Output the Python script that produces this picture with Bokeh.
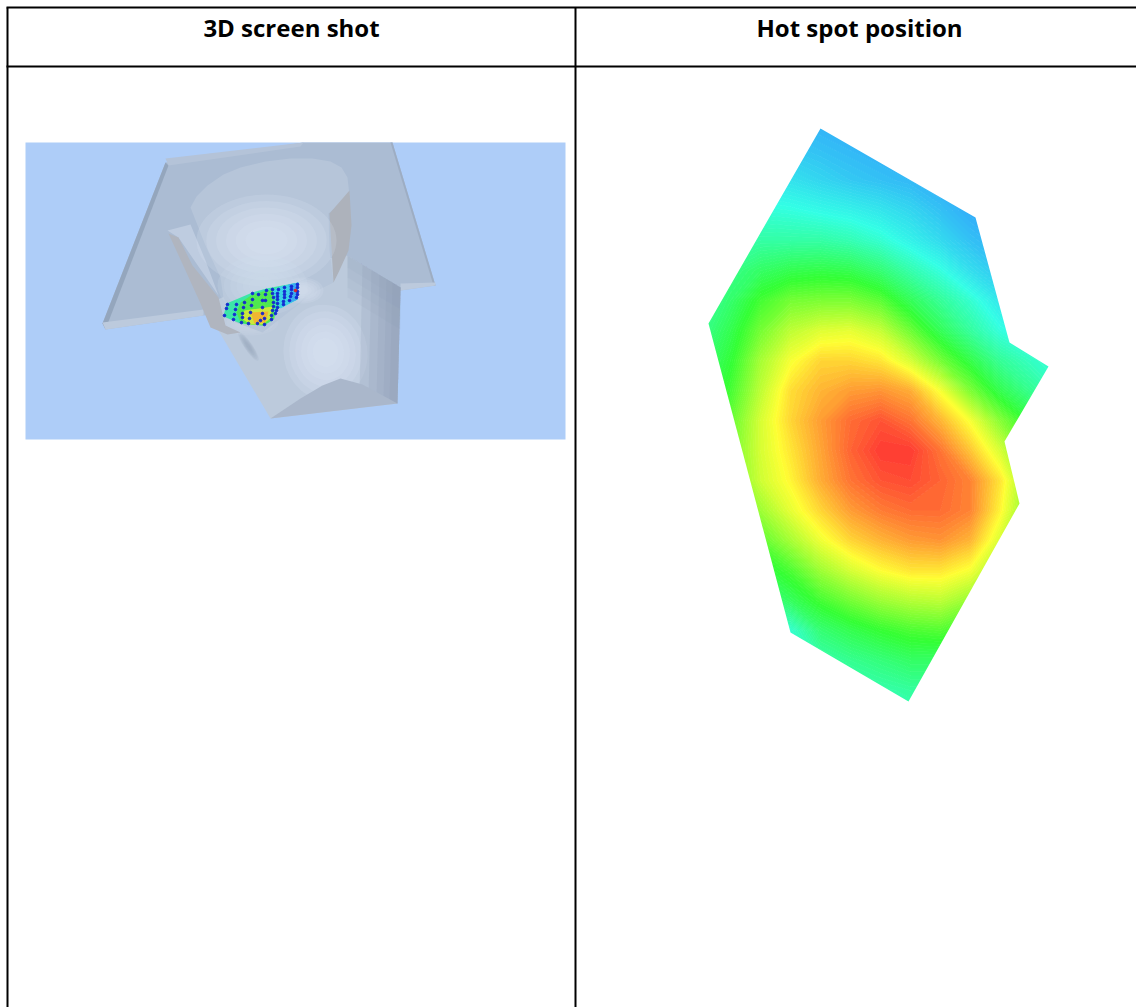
import numpy as np
from bokeh.plotting import figure
from bokeh.embed import file_html
from bokeh.resources import INLINE
from bokeh.core.properties import value

# ---- table ----
HEADERS = ["3D screen shot", "Hot spot position"]
HEADER_X = [291, 859]
HEADER_Y = [27, 27]
H_LINES_Y = [7, 66]
V_LINES_X = [7, 575]

# ---- hot spot field (0 blue .. 1 red) ----
GRID_X = [700, 730, 760, 790, 820, 850, 880, 910, 940, 970, 1000, 1030, 1060]
GRID_Y = [120, 150, 180, 210, 240, 270, 300, 330, 360, 390, 420, 450, 480, 510, 540, 570, 600, 630, 660, 690, 720]
FIELD = [
    [.12, .11, .10, .08, .06, .05, .04, .03, .02, .01, .00, .00, .00],
    [.16, .15, .14, .12, .10, .08, .06, .05, .03, .02, .01, .00, .00],
    [.23, .21, .20, .18, .15, .12, .10, .08, .05, .03, .02, .01, .00],
    [.28, .28, .27, .26, .24, .22, .19, .15, .10, .05, .03, .02, .01],
    [.30, .33, .34, .34, .34, .32, .28, .22, .16, .10, .06, .04, .03],
    [.32, .38, .43, .46, .47, .46, .41, .33, .26, .17, .11, .08, .06],
    [.34, .42, .52, .58, .59, .59, .55, .45, .36, .28, .19, .14, .12],
    [.37, .46, .58, .67, .71, .72, .68, .57, .45, .35, .26, .22, .20],
    [.40, .49, .64, .74, .80, .80, .78, .70, .58, .47, .36, .30, .26],
    [.42, .52, .67, .79, .84, .87, .88, .85, .74, .59, .46, .37, .30],
    [.44, .56, .70, .80, .87, .93, .96, .92, .84, .74, .60, .48, .36],
    [.46, .58, .70, .78, .86, .94, .99, .99, .92, .82, .70, .56, .42],
    [.46, .58, .69, .76, .85, .92, .96, .97, .94, .90, .78, .60, .45],
    [.42, .53, .63, .72, .80, .87, .91, .93, .93, .90, .76, .58, .44],
    [.37, .46, .55, .64, .73, .80, .84, .87, .88, .84, .70, .55, .42],
    [.32, .39, .46, .53, .63, .70, .75, .78, .78, .74, .62, .50, .38],
    [.27, .32, .38, .44, .52, .58, .63, .66, .67, .62, .52, .44, .34],
    [.22, .26, .30, .28, .41, .46, .50, .53, .54, .50, .44, .38, .30],
    [.18, .22, .24, .27, .33, .37, .40, .43, .43, .40, .36, .32, .27],
    [.16, .19, .21, .24, .28, .31, .33, .35, .35, .33, .30, .27, .24],
    [.14, .16, .18, .21, .25, .27, .29, .31, .31, .30, .28, .25, .22],
]
COLOR_STOPS = [0, .25, .5, .75, 1]
COLOR_R = [51, 51, 51, 255, 255]
COLOR_G = [153, 255, 255, 255, 51]
COLOR_B = [255, 230, 51, 51, 51]
HOT_X = [820, 975, 1009, 1048, 1004, 1019, 908, 790, 708]
HOT_Y = [128, 217, 342, 366, 441, 503, 701, 632, 323]
MASK_X = [690, 1070, 1070, 690]
MASK_Y = [110, 110, 730, 730]

# ---- 3D view shapes ----
BG_X = [25, 565, 565, 25]
BG_Y = [142, 142, 439, 439]
PLATE_SHAPES = [
    ([165, 303, 392, 435, 400, 350, 203, 105, 102], [162, 142, 142, 285, 290, 300, 315, 329, 323], "#ABBCD3"),
    ([165, 102, 105, 168], [162, 323, 329, 165], "#94A6BD"),
    ([165, 303, 300, 168], [158, 142, 146, 165], "#B4C3D8"),
    ([102, 203, 203, 105], [322, 309, 315, 329], "#BCCADD"),
    ([392, 435, 433, 390], [142, 285, 285, 142], "#9DADC3"),
    ([400, 435, 435, 400], [283, 282, 285, 290], "#BCCADD"),
]
TUBE_X = [347, 400, 397, 270, 218, 215, 300]
TUBE_Y = [255, 287, 403, 418, 330, 300, 262]
TUBE_COLOR = "#BCCADC"
WALL_INSETS = [38, 29, 21, 14, 8]
RIDGE_INSETS = [42, 32, 22, 12]
FACE_X = [270, 300, 322, 340, 362, 397]
FACE_Y = [418, 398, 385, 378, 384, 403]
FACE_COLOR = "#AAB7CB"
TUBE_SOFT_X = [325, 248, 250]
TUBE_SOFT_Y = [352, 346, 322]
TUBE_SOFT_W = [84, 8, 56]
TUBE_SOFT_H = [96, 34, 26]
TUBE_SOFT_A = [.15, .6, 0]
TUBE_SOFT_C = ["#DCE6F3", "#9AAAC0", "#CBD7E6"]
BODY_SHAPES = [
    # grey shell, left
    ([167, 190, 205, 218, 178], [230, 224, 260, 295, 237], "#BECCE0"),
    ([168, 178, 192, 218, 225, 240, 227, 210, 200, 185], [233, 237, 265, 297, 325, 332, 334, 327, 303, 270], "#B0B5BF"),
    # cup interior
    ([190, 196, 207, 223, 240, 265, 290, 312, 330, 341, 347, 349, 328, 329, 333, 317, 303, 262, 235, 223, 220, 205],
     [207, 196, 185, 174, 167, 161, 158, 158, 161, 167, 177, 195, 213, 250, 282, 290, 300, 332, 322, 297, 277, 245], "#B6C5D9"),
    # grey shell, right
    ([329, 349, 351, 348, 338, 333], [213, 190, 225, 250, 272, 282], "#ADB2BB"),
]
# soft shading in the cup: centre x, centre y, width, height, angle, colour
SOFT_X = [266, 262, 302]
SOFT_Y = [240, 285, 290]
SOFT_W = [140, 90, 42]
SOFT_H = [92, 60, 26]
SOFT_A = [0, 0, 0]
SOFT_C = ["#DAE5F3", "#CFDBEB", "#D5E0EE"]
# small hot spot on the 3D view
SPOT_LAYERS = [
    ([298, 297, 278, 272, 263, 248, 240, 223, 226, 252, 266], [282, 299, 308, 320, 325, 324, 323, 316, 303, 292, 288], "#3CE6A8"),
    ([298, 297, 280, 276, 272, 280], [282, 299, 308, 300, 290, 286], "#3CD2E6"),
    ([298, 297, 290, 288], [282, 299, 302, 284], "#3CAAF0"),
    ([272, 274, 263, 248, 240, 236, 240, 252, 266], [290, 318, 325, 324, 322, 312, 302, 294, 290], "#50E850"),
    ([244, 272, 270, 262, 250, 241], [310, 306, 318, 324, 324, 318], "#CDE83C"),
    ([250, 268, 265, 254], [312, 311, 322, 323], "#F0B632"),
]
DOT_X = [297, 297, 297, 297, 296, 291, 291, 291, 290, 289, 284, 284, 284, 284, 283, 283,
         278, 277, 277, 277, 277, 277, 276, 275, 272, 272, 273, 273, 273, 272, 271, 271,
         266, 265, 265, 264, 264, 258, 262, 262, 262, 260, 257, 252, 252, 251, 250, 249, 248,
         244, 243, 242, 242, 241, 236, 235, 234, 233, 227, 226, 224]
DOT_Y = [284, 287, 291, 294, 297, 286, 289, 293, 296, 300, 287, 291, 294, 297, 301, 304,
         289, 293, 296, 299, 303, 307, 310, 313, 289, 293, 297, 302, 306, 310, 315, 319,
         290, 294, 300, 318, 324, 294, 300, 307, 313, 320, 323, 293, 299, 305, 312, 318, 323,
         302, 307, 313, 317, 322, 304, 309, 314, 319, 304, 308, 315]
RED_DOT_X = [295]
RED_DOT_Y = [290]
DOT_COLOR = "#1426D2"

p = figure(width=1136, height=1007, x_range=(0, 1136), y_range=(1007, 0),
           output_backend="svg", toolbar_location=None, min_border=0)
p.axis.visible = False
p.grid.visible = False
p.outline_line_color = None
p.background_fill_color = "white"
p.border_fill_color = "white"
p.styles = {"position": "absolute", "left": "0px", "top": "0px"}

SCALES = (1.0, .86, .72, .58, .44, .3)
def soft(xs, ys, ws, hs, angs, cols):
    for s in SCALES:
        p.ellipse(xs, ys, width=[w * s for w in ws], height=[h * s for h in hs],
                  angle=angs, fill_color=cols, fill_alpha=.2, line_color=None)

# 3D view
p.patch(BG_X, BG_Y, fill_color="#AECDF8", line_color=None)
for xs, ys, c in PLATE_SHAPES:
    p.patch(xs, ys, fill_color=c, line_color=None)
p.patch(TUBE_X, TUBE_Y, fill_color=TUBE_COLOR, line_color=None)
soft(TUBE_SOFT_X, TUBE_SOFT_Y, TUBE_SOFT_W, TUBE_SOFT_H, TUBE_SOFT_A, TUBE_SOFT_C)
for i in RIDGE_INSETS:
    p.patch([TUBE_X[0], TUBE_X[1], TUBE_X[1], TUBE_X[0]], [TUBE_Y[0], TUBE_Y[1], TUBE_Y[1] + i, TUBE_Y[0] + i],
            fill_color="#93A3BA", fill_alpha=.12, line_color=None)
for i in WALL_INSETS:
    p.patch([TUBE_X[1] - i, TUBE_X[1], TUBE_X[2], TUBE_X[2] - i],
            [TUBE_Y[1] - i * .6, TUBE_Y[1], TUBE_Y[2], TUBE_Y[2] - i / 4],
            fill_color="#8E9DB3", fill_alpha=.2, line_color=None)
p.patch(FACE_X, FACE_Y, fill_color=FACE_COLOR, line_color=None)
for xs, ys, c in BODY_SHAPES:
    p.patch(xs, ys, fill_color=c, line_color=None)
soft(SOFT_X, SOFT_Y, SOFT_W, SOFT_H, SOFT_A, SOFT_C)
for xs, ys, c in SPOT_LAYERS:
    p.patch(xs, ys, fill_color=c, line_color=None)
p.scatter(DOT_X, DOT_Y, size=2.6, color=DOT_COLOR)
p.scatter(RED_DOT_X, RED_DOT_Y, size=2.6, color="#E02020")

# hot spot map
stops = np.array(COLOR_STOPS, dtype=float)
def cmap(v):
    r = np.interp(v, stops, COLOR_R)
    g = np.interp(v, stops, COLOR_G)
    b = np.interp(v, stops, COLOR_B)
    return ["#%02x%02x%02x" % (int(a), int(c), int(d)) for a, c, d in zip(r, g, b)]
levels = np.arange(-1, 102) / 100
mids = (levels[:-1] + levels[1:]) / 2
xx, yy = np.meshgrid(GRID_X, GRID_Y)
p.contour(xx, yy, np.array(FIELD), levels=levels, fill_color=cmap(mids),
          line_color=cmap(levels), line_width=1)
p.multi_polygons(xs=[[[MASK_X, HOT_X]]], ys=[[[MASK_Y, HOT_Y]]], fill_color="white", line_color=None)

# table
p.segment(x0=[6, 6], y0=H_LINES_Y, x1=[1136, 1136], y1=H_LINES_Y, line_color="black", line_width=2)
p.segment(x0=V_LINES_X, y0=[H_LINES_Y[0]] * 2, x1=V_LINES_X, y1=[1007, 1007], line_color="black", line_width=2)
p.text(HEADER_X, HEADER_Y, text=HEADERS, text_font=value("Open Sans"), text_font_style="bold",
       text_font_size="24px", text_align="center", text_baseline="middle", text_color="black")

open("out.html", "w").write(file_html(p, INLINE))
